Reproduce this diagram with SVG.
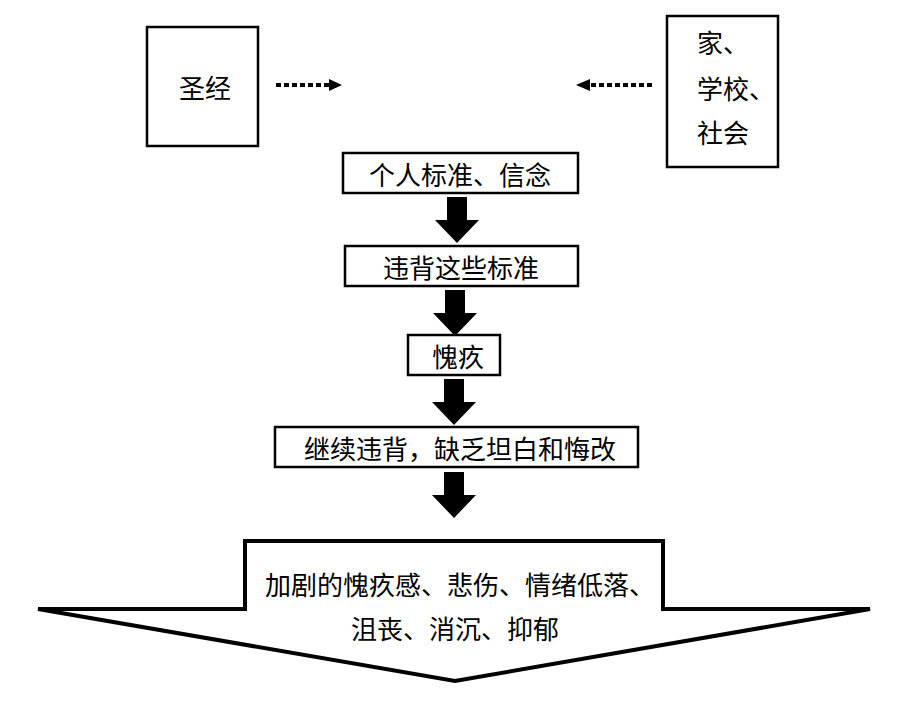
<svg xmlns="http://www.w3.org/2000/svg" width="920" height="705" viewBox="0 0 920 705">
<style>
.box{fill:#fff;stroke:#000;stroke-width:2.5}
.t{font-family:"Noto Sans CJK SC","Noto Sans",sans-serif;font-size:26px;fill:#000;dominant-baseline:central}
.m{text-anchor:middle}
.dot{stroke:#000;stroke-width:4;stroke-dasharray:5 3;fill:none}
.fat{fill:#000}
</style>
<defs>
<path id="fatArrow" d="M-10,0 H10 V23 H22 L0,46 L-22,23 H-10 Z"/>
</defs>
<rect width="920" height="705" fill="#fff"/>
<g id="connectors">
<line class="dot" x1="276" y1="85" x2="329" y2="85"/>
<polygon class="fat" points="329,79 342,85 329,91"/>
<line class="dot" x1="652" y1="85" x2="590" y2="85"/>
<polygon class="fat" points="590,79 576,85 590,91"/>
<use href="#fatArrow" class="fat" x="457" y="197"/>
<use href="#fatArrow" class="fat" x="455" y="290"/>
<use href="#fatArrow" class="fat" x="454" y="379"/>
<use href="#fatArrow" class="fat" x="454" y="472"/>
</g>
<g id="n-bible">
<rect class="box" x="147" y="27" width="111" height="119"/>
<text class="t m" x="205" y="86">圣经</text>
</g>
<g id="n-home">
<rect class="box" x="667" y="16" width="111" height="151"/>
<text class="t" x="697" y="41">家、</text>
<text class="t" x="697" y="87">学校、</text>
<text class="t" x="697" y="131">社会</text>
</g>
<g id="n-standards">
<rect class="box" x="343" y="153" width="235" height="40"/>
<text class="t m" x="460" y="173">个人标准、信念</text>
</g>
<g id="n-violate">
<rect class="box" x="345" y="246" width="233" height="40"/>
<text class="t m" x="461" y="266">违背这些标准</text>
</g>
<g id="n-guilt">
<rect class="box" x="408" y="335" width="92" height="40"/>
<text class="t m" x="458" y="355">愧疚</text>
</g>
<g id="n-continue">
<rect class="box" x="275" y="427" width="363" height="40"/>
<text class="t m" x="460" y="447">继续违背，缺乏坦白和悔改</text>
</g>
<g id="n-result">
<path d="M245,541 H663 V609 H870 L455,681 L38,609 H245 Z" fill="#fff" stroke="#000" stroke-width="4" stroke-linejoin="miter"/>
<text class="t m" x="460" y="583">加剧的愧疚感、悲伤、情绪低落、</text>
<text class="t m" x="455" y="627">沮丧、消沉、抑郁</text>
</g>
</svg>
